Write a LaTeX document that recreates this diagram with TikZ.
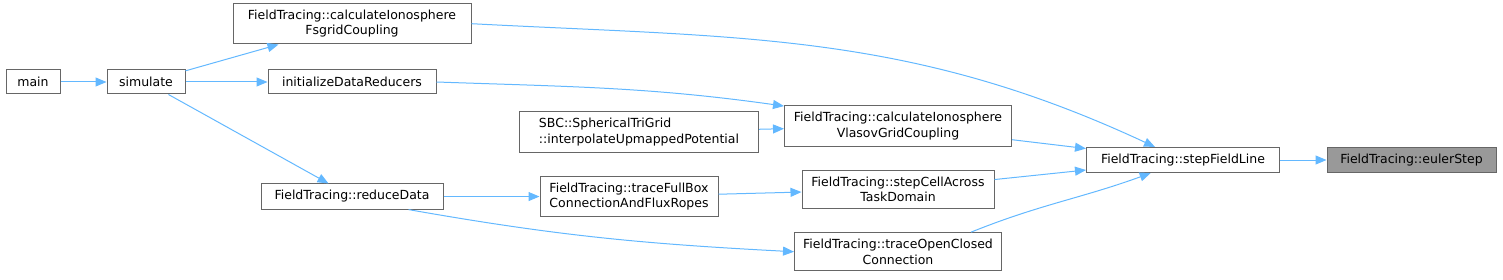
\documentclass[tikz,border=0pt]{standalone}
\usepackage{fontspec}
\setmainfont{DejaVu Sans}
\usepackage{tikz}
\usetikzlibrary{arrows.meta,positioning}
\definecolor{Edge}{HTML}{63B8FF}
\definecolor{Frame}{HTML}{666666}
\definecolor{CurF}{HTML}{999999}

\begin{document}
\begin{tikzpicture}[x=1pt,y=-1pt,font=\fontsize{12.5}{15.5}\selectfont,
    fn/.style={draw=Frame,fill=white,minimum height=24pt,inner xsep=6pt,
      inner ysep=6.5pt,align=center,line width=1pt},
    cur/.style={fn,fill=CurF},
    call/.style={->,Edge,line width=1pt},
    >={Triangle[length=11pt,width=9pt]}]
  \useasboundingbox (0,0) rectangle (1503,280);
  \node[fn, minimum width=54pt] (main) at (33,82) {main};
  \node[fn, minimum width=78pt, right=46pt of main] (sim) {simulate};
  \node[fn, minimum width=168pt, right=82pt of sim] (init) {initializeDataReducers};
  \node[fn, minimum width=238pt, above=25pt of init] (fsgrid) {FieldTracing::calculateIonosphere\\FsgridCoupling};
  \node[fn, minimum width=182pt, below=89pt of init] (reduce) {FieldTracing::reduceData};
  \node[fn, minimum width=178pt, align=left, right=96pt of reduce] (fullbox) {FieldTracing::traceFullBox\\ConnectionAndFluxRopes};
  \node[fn, minimum width=239pt, align=left, above=23pt of fullbox, xshift=10pt] (sbc) {SBC::SphericalTriGrid\\::interpolateUpmappedPotential};
  \node[fn, minimum width=192pt, right=83pt of fullbox, yshift=7pt] (cell) {FieldTracing::stepCellAcross\\TaskDomain};
  \node[fn, minimum width=227pt, above=23pt of cell] (vlasov) {FieldTracing::calculateIonosphere\\VlasovGridCoupling};
  \node[fn, minimum width=207pt, below=23pt of cell] (open) {FieldTracing::traceOpenClosed\\Connection};
  \node[fn, minimum width=193pt, below right=0pt and 74pt of vlasov] (line) {FieldTracing::stepFieldLine};
  \node[cur, minimum width=169pt, right=46.5pt of line] (euler) {FieldTracing::eulerStep};
  % calls, left to right
  \draw[call] (main) -- (sim);
  \draw[call] (sim) -- (fsgrid);
  \draw[call] (sim) -- (init);
  \draw[call] (sim) -- (reduce);
  \draw[call] (fsgrid.east) to[out=-3,in=155] (line.155);
  \draw[call] (init.east) to[out=-2,in=172] (vlasov.170);
  \draw[call] (sbc) -- (vlasov);
  \draw[call] (reduce) -- (fullbox);
  \draw[call] (reduce.-13) to[out=-10,in=177] (open.west);
  \draw[call] (fullbox) -- (cell);
  \draw[call] (vlasov) -- (line);
  \draw[call] (cell) -- (line);
  \draw[call] (open.15) to[out=22,in=-160] (line.-158);
  \draw[call] (line) -- (euler);
\end{tikzpicture}
\end{document}
